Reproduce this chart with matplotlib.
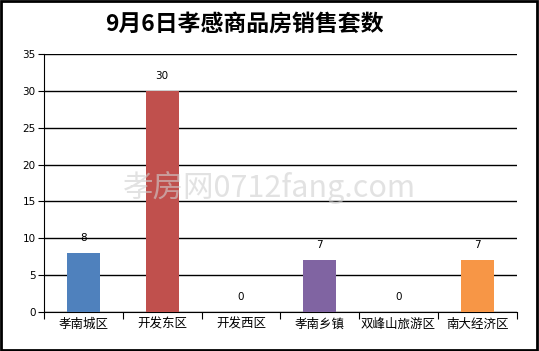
import matplotlib
matplotlib.use("Agg")
import matplotlib.pyplot as plt
from matplotlib.patches import Rectangle

plt.rcParams['font.family'] = ['Noto Sans CJK SC', 'DejaVu Sans']

categories = ["孝南城区", "开发东区", "开发西区", "孝南乡镇", "双峰山旅游区", "南大经济区"]
values = [8, 30, 0, 7, 0, 7]
colors = ["#4F81BD", "#C0504D", "#9BBB59", "#8064A2", "#4BACC6", "#F79646"]
title = "9月6日孝感商品房销售套数"
yticks = [0, 5, 10, 15, 20, 25, 30, 35]

fig = plt.figure(figsize=(5.39, 3.51), dpi=100)
ax = fig.add_axes([0.0816, 0.111, 0.877, 0.735])
x = list(range(len(categories)))
ax.bar(x, values, width=0.42, color=colors, zorder=3)
for xi, v in zip(x, values):
    ax.text(xi, v + 1.4, str(v), ha='center', va='bottom', fontsize=7.5, family='DejaVu Sans', zorder=4)

ax.set_xlim(-0.5, len(categories) - 0.5)
ax.set_ylim(0, 35)
ax.set_yticks(yticks)
ax.set_yticklabels([str(t) for t in yticks], fontsize=7.5, family='DejaVu Sans')
ax.yaxis.grid(True, color='black', linewidth=1, zorder=0)
ax.set_xticks([i - 0.5 for i in range(len(categories) + 1)], minor=False)
ax.set_xticklabels([])
ax.set_xticks(x, minor=True)
ax.set_xticklabels(categories, minor=True, fontsize=9)
ax.tick_params(axis='x', which='minor', length=0, pad=4)
ax.tick_params(axis='x', which='major', length=5, direction='out', color='black')
ax.tick_params(axis='y', length=4, direction='out', color='black', pad=2)
for s in ['top', 'right']:
    ax.spines[s].set_visible(False)
ax.spines['left'].set_color('black')
ax.spines['bottom'].set_color('black')

fig.text(0.453, 0.932, title, ha='center', va='center', fontsize=16.5, fontweight='bold')
fig.text(0.50, 0.465, "孝房网0712fang.com", ha='center', va='center', fontsize=22,
         color='#d0d0d0', alpha=0.6, zorder=0)
fig.patches.append(Rectangle((0.002, 0.003), 0.995, 0.994, transform=fig.transFigure,
                             fill=False, edgecolor='black', linewidth=2))
fig.savefig("out.png", dpi=100)
